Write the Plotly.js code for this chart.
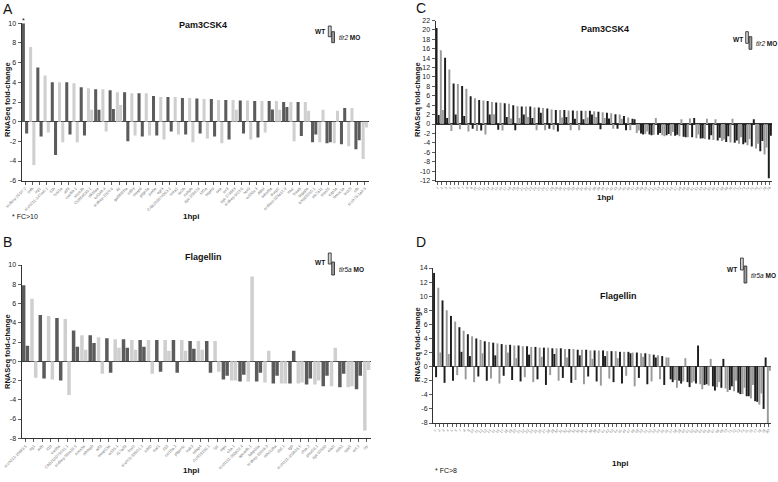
<!DOCTYPE html>
<html><head><meta charset="utf-8">
<script src="https://cdn.plot.ly/plotly-3.0.1.min.js"></script>
<style>html,body{margin:0;padding:0;background:#fff}#chart{width:778px;height:482px}</style>
</head><body><div id="chart"></div>
<script>
// ---------- Panel A : Pam3CSK4 (WT vs tlr2 MO) ----------
const genesA = ["si:dkey-261l7.2","tnfb","irg1","si:ch211-147m6.1","il1b","fosl1a","atf3","cxcl8b.1","socs3b","CU856539.1",
 "nfkbiaa","ccl34b.4","si:dkey-1h24.6","il6","gadd45ba","cd83","mmp9","ptgs2a","junba","egr3",
 "CABZ01074363.1","nr4a1","ier2b","cebpb","zgc:158423","klf2a","hspb9","saa","ier3","zgc:174863",
 "si:dkey-9i23.6","her9","ccl20a.3","ddit4","tnfrsf9a","dusp2","si:dkey-203a12.9","mxc","fosab","tagapa",
 "BX005255.1","slc7a11","trim25","cyp1a","hmox1a","lect2l","cfb","si:ch73-1a9.3"];
const wtA = [10, 7.6, 5.5, 4.7, 4.0, 4.0, 4.0, 3.9, 3.5, 3.4,
 3.3, 3.3, 3.2, 3.0, 3.0, 2.9, 2.9, 2.9, 2.6, 2.5,
 2.5, 2.5, 2.4, 2.4, 2.35, 2.3, 2.3, 2.2, 2.2, 2.2,
 2.15, 2.15, 2.1, 2.1, 2.1, 2.1, 2.0, 2.0, 2.0, 2.0,
 -2.1, -2.1, -2.2, -2.2, -2.3, -2.5, -2.8, -3.8];
const moA = [-1.2, -4.4, -1.5, -1.1, -3.4, -2.1, -1.3, -2.1, -1.4, 1.2,
 1.2, -1.0, 1.3, 1.7, -2.0, -1.4, -1.5, -1.4, -1.4, -1.8,
 -1.0, -1.3, -1.3, -2.1, -1.2, -1.7, -1.5, -2.2, -1.8, 1.2,
 -1.2, -1.8, -1.6, -1.1, 1.25, 1.2, 1.5, -2.0, -1.45, 1.1,
 -1.3, 1.2, -2.1, 1.1, 1.4, 1.4, -1.9, -0.6];

// ---------- Panel B : Flagellin (WT vs tlr5a MO) ----------
const genesB = ["si:ch211-198k9.6","irg1","tnfb","il1b","cxcl8a","CABZ01079241.1","si:dkey-56m19.5","socs3a","nfkbiab","atf3",
 "mmp13a","ccl35.1","il17a/f3","fosl2","si:ch73-335l21.2","cd40","traf1","il10","ccl19a.2","ptger4c",
 "irak3","mfap4","CU929150.1","lyz","mpx","c3a.1","si:ch211-200p22.4","apoa4b.1","fabp10a","si:dkey-102c8.3",
 "mhc1zba","ctsl.1","fgb","si:ch211-153b23.5","chia.2","prss59.1","zgc:92590","ela2l","ctrb1","cpa5",
 "cel.2","try"];
const wtB = [7.9, 6.5, 4.8, 4.7, 4.5, 4.4, 3.2, 2.7, 2.7, 2.5,
 2.4, 2.3, 2.3, 2.2, 2.2, 2.2, 2.2, 2.2, 2.2, 2.2,
 2.1, 2.1, 2.1, 2.1, -1.9, -2.0, -2.1, -2.1, -2.1, -2.2,
 -2.3, -2.3, -2.3, -2.3, -2.4, -2.4, -2.6, -2.6, -2.7, -2.7,
 -2.9, -7.2];
const moB = [1.6, -1.7, -1.8, -1.9, -2.0, -3.5, 1.5, 1.2, 1.9, -1.3,
 -1.2, 1.4, 1.4, 1.2, 1.5, -1.3, -1.1, 1.1, -1.2, 1.1,
 1.3, 1.2, -1.2, -1.1, -1.5, -2.0, -1.4, 8.8, -1.2, 1.1,
 -1.5, -2.3, 1.1, -2.2, -1.8, -2.0, -1.5, 1.4, -1.3, -2.6,
 -1.5, -0.9];

// ---------- Panel C : Pam3CSK4 (WT vs tlr2 MO) ----------
const genesC = ("1 2 3 4 5 6 7 8 9 10 11 12 13 14 15 16 17 18 19 20 21 22 23 24 25 26 27 28 29 30 " +
 "31 32 33 34 35 36 37 38 39 40 41 42 43 44 45 46 47 48 49 50 51 52 53 54 55 56 57 58 59 60 " +
 "61 62 63 64 65 66 67 68 69 70 71 72 73 74 75 76 77 78 79").split(" ");
const wtC = [20.4, 15.7, 14.1, 11.6, 8.6, 8.5, 8.1, 7.5, 5.9, 5.5,
 5.1, 5.0, 4.9, 4.7, 4.6, 4.5, 4.4, 4.3, 4.0, 3.8,
 3.7, 3.7, 3.7, 3.5, 3.5, 3.4, 3.3, 3.1, 3.0, 3.0,
 3.0, 2.9, 2.9, 2.8, 2.8, 2.8, 2.8, 2.7, 2.6, 2.5,
 2.4, 2.3, 2.1, 2.0, 1.7, 1.4, 1.1, -1.9, -2.0, -2.1,
 -2.2, -2.3, -2.3, -2.4, -2.4, -2.5, -2.5, -2.6, -2.7, -2.8,
 -2.8, -3.0, -3.1, -3.2, -3.3, -3.4, -3.5, -3.6, -3.8, -3.9,
 -4.0, -4.2, -4.3, -4.5, -4.8, -5.2, -5.8, -6.5, -11.5];
const moC = [1.9, 3.0, 1.3, -1.5, 2.0, -1.1, 1.7, -1.6, -1.0, -1.5,
 -1.4, -2.2, 2.0, 2.1, -1.2, -1.4, 1.5, 1.2, -1.3, 1.3,
 2.0, 1.5, 1.3, -1.3, 2.4, -1.3, -1.0, -1.2, -1.6, 1.4,
 1.5, -1.3, 1.1, -1.3, 1.0, 1.4, 2.0, 1.5, -1.1, 1.3,
 1.2, -1.0, -1.0, 1.1, -1.3, -1.3, 1.0, -1.4, -2.2, -1.6,
 -2.4, 1.3, -1.9, -2.6, -2.1, -1.7, -2.3, 1.0, -2.8, 1.2,
 1.3, -2.2, -3.0, 1.1, -2.4, 1.0, -2.9, -3.3, -2.6, 1.1,
 -3.5, -2.8, -3.9, -3.2, 1.0, -4.2, -3.6, -5.0, -2.5];

// ---------- Panel D : Flagellin (WT vs tlr5a MO) ----------
const genesD = ("1 2 3 4 5 6 7 8 9 10 11 12 13 14 15 16 17 18 19 20 21 22 23 24 25 26 27 28 29 30 " +
 "31 32 33 34 35 36 37 38 39 40 41 42 43 44 45 46 47 48 49 50 51 52 53 54 55 56 57 58 59 60 " +
 "61 62 63 64 65 66 67 68 69 70 71 72 73 74 75 76 77 78 79 80").split(" ");
const wtD = [13.3, 11.2, 9.4, 8.0, 7.2, 6.4, 5.6, 5.1, 4.6, 4.3,
 4.0, 3.8, 3.6, 3.5, 3.4, 3.3, 3.2, 3.1, 3.1, 3.0,
 3.0, 2.9, 2.9, 2.8, 2.8, 2.7, 2.7, 2.7, 2.6, 2.6,
 2.6, 2.5, 2.5, 2.5, 2.4, 2.4, 2.4, 2.3, 2.3, 2.3,
 2.3, 2.2, 2.2, 2.2, 2.1, 2.1, 2.1, 2.0, 2.0, 1.9,
 1.9, 1.8, 1.7, 1.6, 1.5, 1.3, -1.8, -1.9, -2.0, -2.1,
 -2.2, -2.3, -2.4, -2.5, -2.6, -2.7, -2.8, -2.9, -3.0, -3.1,
 -3.3, -3.5, -3.7, -3.9, -4.2, -4.5, -4.9, -5.4, -6.0, -8.0];
const moD = [-1.5, 2.0, -2.3, 1.8, -2.0, -1.2, 2.1, -1.8, 1.5, -2.2,
 -1.4, 1.9, -2.0, -1.7, 1.6, -2.4, -1.3, 2.0, -1.9, 1.2,
 -2.1, -1.5, 1.7, -2.2, -1.8, 1.4, -2.6, -1.2, 1.8, -2.0,
 -1.6, 1.3, -2.3, -1.9, 1.6, -2.5, -1.4, 1.1, -2.1, -2.7,
 1.5, -1.7, -2.2, 1.2, -2.4, -1.3, 1.9, -2.8, -1.6, 1.4,
 -2.5, -2.1, 1.3, -1.8, -2.6, 1.3, -2.2, -3.0, -2.4, 1.2,
 -2.9, -2.1, 3.0, -3.2, -2.5, 1.1, -3.4, -2.2, 1.1, -3.6,
 -2.8, -2.0, -3.9, -3.0, -4.2, -2.6, -5.0, -3.8, 1.3, -0.6];

const ticksA = [-6,-4,-2,0,2,4,6,8,10];
const ticksB = [-8,-6,-4,-2,0,2,4,6,8,10];
const ticksC = [-12,-10,-8,-6,-4,-2,0,2,4,6,8,10,12,14,16,18,20,22];
const ticksD = [-8,-6,-4,-2,0,2,4,6,8,10,12,14];

// ---------- helpers ----------
const W = 778, H = 482;
const PX = x => x / W, PY = y => 1 - y / H;
const xdom = (a, b) => [a / W, b / W];
const ydom = (top, bottom) => [1 - bottom / H, 1 - top / H];
function alt(n, c1, c2) { const a = []; for (let i = 0; i < n; i++) a.push(i % 2 ? c2 : c1); return a; }
function pairTraces(cats, wt, mo, xa, ya, c1, c2, off1, off2, w) {
  const cols = alt(cats.length, c1, c2);
  return [
    {type:'bar', x:cats, y:wt, xaxis:xa, yaxis:ya, offset:off1, width:w, marker:{color:cols, line:{width:0}}, hoverinfo:'skip', name:'WT'},
    {type:'bar', x:cats, y:mo, xaxis:xa, yaxis:ya, offset:off2, width:w, marker:{color:cols, line:{width:0}}, hoverinfo:'skip', name:'MO'}
  ];
}
function xax(domain, anchor, n, fs) {
  return {domain, anchor, type:'category', range:[-0.5, n - 0.5], showline:true, linecolor:'#333', linewidth:1,
    ticks:'outside', ticklen:3, tickwidth:0.8, tickcolor:'#333', tickangle:-45,
    tickfont:{size:fs, color:'#777'}, showgrid:false, zeroline:false, fixedrange:true, automargin:false};
}
function yax(domain, anchor, range, tv) {
  return {domain, anchor, range, tickvals:tv, ticktext:tv.map(String), showline:true, linecolor:'#333', linewidth:1,
    ticks:'outside', ticklen:3, tickwidth:0.8, tickcolor:'#333', tickfont:{size:7, color:'#222'},
    showgrid:false, zeroline:true, zerolinecolor:'#333', zerolinewidth:1.2, automargin:false, fixedrange:true};
}

const darkAB = '#5b5b5b', lightAB = '#cfcfcf';
const darkCD = '#1e1e1e', lightCD = '#9a9a9a';

const data = [].concat(
  pairTraces(genesA, wtA, moA, 'x', 'y', darkAB, lightAB, -0.45, 0.0, 0.42),
  pairTraces(genesB, wtB, moB, 'x2', 'y2', darkAB, lightAB, -0.45, 0.0, 0.42),
  pairTraces(genesC, wtC, moC, 'x3', 'y3', darkCD, lightCD, -0.48, 0.0, 0.46),
  pairTraces(genesD, wtD, moD, 'x4', 'y4', darkCD, lightCD, -0.48, 0.0, 0.46)
);

const ann = [];
function txt(x, y, text, size, opts) {
  ann.push(Object.assign({xref:'paper', yref:'paper', x:PX(x), y:PY(y), text, showarrow:false,
    font:{size, color:'#111'}, xanchor:'center', yanchor:'middle'}, opts || {}));
}
// panel letters
txt(8, 9, 'A', 14); txt(8, 242, 'B', 14); txt(421, 8, 'C', 14); txt(421, 242, 'D', 14);
// titles
txt(203, 25, '<b>Pam3CSK4</b>', 9); txt(203, 257, '<b>Flagellin</b>', 9);
txt(605, 29, '<b>Pam3CSK4</b>', 9); txt(618, 296, '<b>Flagellin</b>', 9);
// x titles
txt(191, 217, '<b>1hpi</b>', 8); txt(191, 470, '<b>1hpi</b>', 8);
txt(605, 197, '<b>1hpi</b>', 8); txt(620, 463, '<b>1hpi</b>', 8);
// footnotes
txt(10, 217, '* FC>10', 7, {xanchor:'left'}); txt(433, 470, '* FC>8', 7, {xanchor:'left'});
// y titles
txt(7, 100, '<b>RNASeq fold-change</b>', 7.5, {textangle:-90});
txt(7, 352, '<b>RNASeq fold-change</b>', 7.5, {textangle:-90});
txt(417, 100, '<b>RNASeq fold-change</b>', 7.5, {textangle:-90});
txt(417, 345, '<b>RNASeq fold-change</b>', 7.5, {textangle:-90});
// asterisks on capped bars
ann.push({xref:'x', yref:'y', x:genesA[0], y:wtA[0], text:'*', showarrow:false, yanchor:'bottom', xshift:-2, yshift:-3, font:{size:7, color:'#111'}});
ann.push({xref:'x4', yref:'y4', x:genesD[genesD.length-1], y:wtD[wtD.length-1], text:'*', showarrow:false, yanchor:'top', xshift:-1, yshift:-1, font:{size:7, color:'#111'}});

// legend icons
const shapes = [];
function legend(wx, wy, b1, b2, label) {
  txt(wx, wy, '<b>WT</b>', 6.5);
  shapes.push({type:'rect', xref:'paper', yref:'paper', x0:PX(b1[0]), x1:PX(b1[1]), y0:PY(b1[3]), y1:PY(b1[2]), fillcolor:'#d0d0d0', line:{color:'#222', width:0.8}});
  shapes.push({type:'rect', xref:'paper', yref:'paper', x0:PX(b2[0]), x1:PX(b2[1]), y0:PY(b2[3]), y1:PY(b2[2]), fillcolor:'#9a9a9a', line:{color:'#222', width:0.8}});
  txt(b2[1] + 2.5, (b2[2] + b2[3]) / 2 + 0.5, label, 6.5, {xanchor:'left'});
}
legend(320, 32, [328.3, 331.2, 26, 36.7], [331.7, 334.5, 31.7, 42.7], '<i>tlr2</i> <b>MO</b>');
legend(320, 262, [328.3, 331.2, 253, 264], [331.7, 334.5, 262, 275], '<i>tlr5a</i> <b>MO</b>');
legend(737.5, 39, [745.7, 748.4, 31.7, 43.3], [749, 751.8, 36.7, 49.3], '<i>tlr2</i> <b>MO</b>');
legend(732, 269, [740.5, 743.3, 258, 270], [744, 746.8, 266, 283], '<i>tlr5a</i> <b>MO</b>');

const layout = {
  width: W, height: H, margin:{l:0, r:0, t:0, b:0}, paper_bgcolor:'#fff', plot_bgcolor:'rgba(0,0,0,0)',
  showlegend:false, barmode:'overlay',
  font:{family:'Liberation Sans, Arial, sans-serif', color:'#111'},
  xaxis:  xax(xdom(21.5, 368.5), 'y', genesA.length, 4),
  yaxis:  yax(ydom(23.3, 180.7), 'x', [-6, 10], ticksA),
  xaxis2: xax(xdom(21.5, 371), 'y2', genesB.length, 4),
  yaxis2: yax(ydom(265, 438.3), 'x2', [-8, 10], ticksB),
  xaxis3: xax(xdom(435.5, 772), 'y3', genesC.length, 3.5),
  yaxis3: yax(ydom(20.5, 180.5), 'x3', [-12, 22], ticksC),
  xaxis4: xax(xdom(433, 771), 'y4', genesD.length, 3.5),
  yaxis4: yax(ydom(268, 423), 'x4', [-8, 14], ticksD),
  annotations: ann, shapes: shapes
};
Plotly.newPlot('chart', data, layout, {staticPlot:true, displayModeBar:false});
</script></body></html>
